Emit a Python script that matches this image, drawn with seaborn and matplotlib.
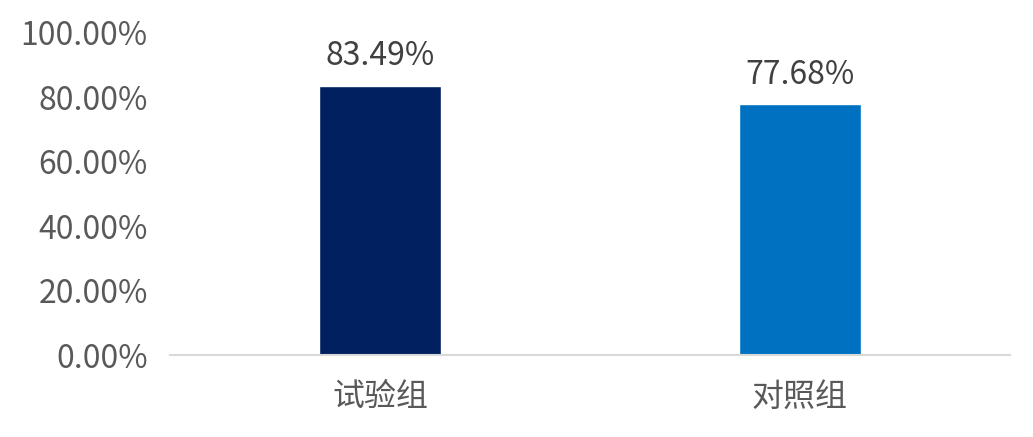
import matplotlib
matplotlib.use('Agg')
import matplotlib.pyplot as plt
import seaborn as sns
import pandas as pd
from matplotlib.ticker import FuncFormatter

groups = ['试验组', '对照组']
rates = [83.49, 77.68]
bar_colors = ['#002060', '#0070C0']

sns.set_theme(style='white')
plt.rcParams['font.family'] = ['Noto Sans CJK SC', 'DejaVu Sans']

df = pd.DataFrame({'group': groups, 'rate': rates})

fig = plt.figure(figsize=(10.33, 4.37), dpi=100)
ax = fig.add_axes([0.1646, 0.1876, 0.8131, 0.738])
sns.barplot(data=df, x='group', y='rate', hue='group', palette=bar_colors,
            width=0.29, legend=False, ax=ax, saturation=1)

ax.set_ylim(0, 100)
ax.set_yticks([0, 20, 40, 60, 80, 100])
ax.yaxis.set_major_formatter(FuncFormatter(lambda v, p: f'{v:.2f}%'))
ax.set_xlim(-0.5, 1.5)
ax.set_xlabel('')
ax.set_ylabel('')
for s in ['top', 'right', 'left']:
    ax.spines[s].set_visible(False)
ax.spines['bottom'].set_color('#d9d9d9')
ax.spines['bottom'].set_linewidth(1.5)
ax.tick_params(axis='y', length=0, pad=16, labelsize=23, labelcolor='#595959')
ax.tick_params(axis='x', length=0, pad=19, labelsize=23, labelcolor='#595959')

for c in ax.containers:
    ax.bar_label(c, labels=[f'{v:.2f}%' for v in c.datavalues], padding=10,
                 fontsize=23, color='#404040')

fig.savefig('out.png', dpi=100)
